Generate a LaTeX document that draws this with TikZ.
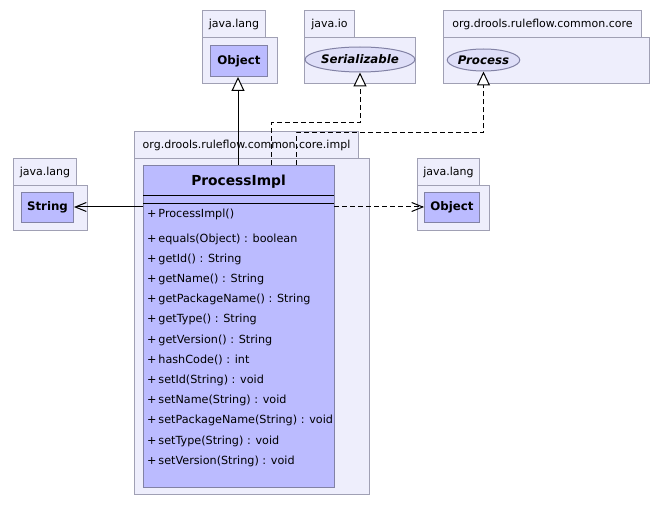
\documentclass[tikz,border=0pt]{standalone}
\usepackage{fontspec}
\setmainfont{DejaVu Sans}
\usetikzlibrary{shapes.geometric,arrows.meta}
\definecolor{pkgfill}{RGB}{238,238,252}
\definecolor{pkgline}{RGB}{160,160,180}
\definecolor{clsfill}{RGB}{187,187,255}
\definecolor{clsline}{RGB}{130,130,165}
\definecolor{ifcfill}{RGB}{222,222,248}
\begin{document}
\begin{tikzpicture}[x=1pt,y=-1pt,
  pkg/.style={draw=pkgline, fill=pkgfill, line width=1pt, inner sep=0pt, anchor=north west},
  pkglabel/.style={font=\fontsize{11}{13}\selectfont},
  cls/.style={draw=clsline, fill=clsfill, line width=1pt, inner sep=0pt, anchor=north west, font=\bfseries\fontsize{11.8}{13}\selectfont},
  ifc/.style={ellipse, draw=clsline, fill=ifcfill, line width=1pt, inner sep=0pt, font=\bfseries\itshape\fontsize{11.8}{13}\selectfont},
  member/.style={anchor=west, inner sep=0pt, font=\fontsize{11.2}{13}\selectfont},
  gen/.style={line width=1pt, -{Triangle[open, length=14pt, width=13pt, fill=white]}},
  real/.style={gen, dash pattern=on 5pt off 3pt},
  dep/.style={line width=1pt, -{Straight Barb[length=11pt, width=9pt]}},
]
\useasboundingbox (0,0) rectangle (664,505);
% java.lang (top)
\node[pkg, pkglabel, minimum width=63pt, minimum height=27pt] (jlAtab) at (202,10) {java.lang};
\node[pkg, minimum width=75pt, minimum height=46pt] (jlAbody) at (202,37) {};
\node[cls, minimum width=57pt, minimum height=31pt] (objA) at (210,45) {Object};
% java.io
\node[pkg, pkglabel, minimum width=50pt, minimum height=27pt] (jioTab) at (304,10) {java.io};
\node[pkg, minimum width=111pt, minimum height=46pt] (jioBody) at (304,37) {};
\node[ifc, minimum width=96pt, minimum height=25pt] (ser) at (360,59.5) {Serializable};
% org.drools.ruleflow.common.core
\node[pkg, pkglabel, minimum width=198pt, minimum height=27pt] (coreTab) at (443,10) {org.drools.ruleflow.common.core};
\node[pkg, minimum width=206pt, minimum height=46pt] (coreBody) at (443,37) {};
\node[ifc, minimum width=65pt, minimum height=22pt] (proc) at (483.5,60) {Process};
% impl package
\node[pkg, pkglabel, minimum width=224pt, minimum height=27pt] (implTab) at (134,131) {org.drools.ruleflow.common.core.impl};
\node[pkg, minimum width=235pt, minimum height=336pt] (implBody) at (134,158) {};
% ProcessImpl class
\node[cls, minimum width=191pt, minimum height=322pt] (pimpl) at (143,165) {};
\node[font=\bfseries\fontsize{13.8}{15}\selectfont, inner sep=0pt] (pname) at (238.5,182) {ProcessImpl};
\draw[line width=1pt] (143,196) coordinate (sepAl) -- (334,196) coordinate (sepAr);
\draw[line width=1pt] (143,204) coordinate (sepBl) -- (334,204) coordinate (sepBr);
\node[member] (m0) at (147,214) {+\,ProcessImpl()};
\node[member] (m1) at (147,239) {+\,equals(Object) : boolean};
\node[member] (m2) at (147,259.2) {+\,getId() : String};
\node[member] (m3) at (147,279.4) {+\,getName() : String};
\node[member] (m4) at (147,299.6) {+\,getPackageName() : String};
\node[member] (m5) at (147,319.8) {+\,getType() : String};
\node[member] (m6) at (147,340) {+\,getVersion() : String};
\node[member] (m7) at (147,360.2) {+\,hashCode() : int};
\node[member] (m8) at (147,380.4) {+\,setId(String) : void};
\node[member] (m9) at (147,400.6) {+\,setName(String) : void};
\node[member] (m10) at (147,420.8) {+\,setPackageName(String) : void};
\node[member] (m11) at (147,441) {+\,setType(String) : void};
\node[member] (m12) at (147,461.2) {+\,setVersion(String) : void};
% java.lang (left)
\node[pkg, pkglabel, minimum width=63pt, minimum height=27pt] (jlBtab) at (13,158) {java.lang};
\node[pkg, minimum width=74pt, minimum height=45pt] (jlBbody) at (13,185) {};
\node[cls, minimum width=52pt, minimum height=30pt] (str) at (21,192) {String};
% java.lang (right)
\node[pkg, pkglabel, minimum width=62pt, minimum height=27pt] (jlCtab) at (417,158) {java.lang};
\node[pkg, minimum width=72pt, minimum height=45pt] (jlCbody) at (417,185) {};
\node[cls, minimum width=55pt, minimum height=30pt] (objC) at (424,192) {Object};
% connectors
\coordinate (gA) at (238,165);
\draw[gen] (gA) -- (gA |- objA.south);
\coordinate (sA) at (271,165);
\coordinate (sB) at (271,123);
\draw[real] (sA) -- (sB) -| (ser.south);
\coordinate (pA) at (296,165);
\coordinate (pB) at (296,133);
\draw[real] (pA) -- (pB) -| (proc.south);
\coordinate (dL) at (143,207);
\draw[dep] (dL) -- (dL -| str.east);
\coordinate (dR) at (334,207);
\draw[dep, dash pattern=on 5pt off 3pt] (dR) -- (dR -| objC.west);
\end{tikzpicture}
\end{document}
